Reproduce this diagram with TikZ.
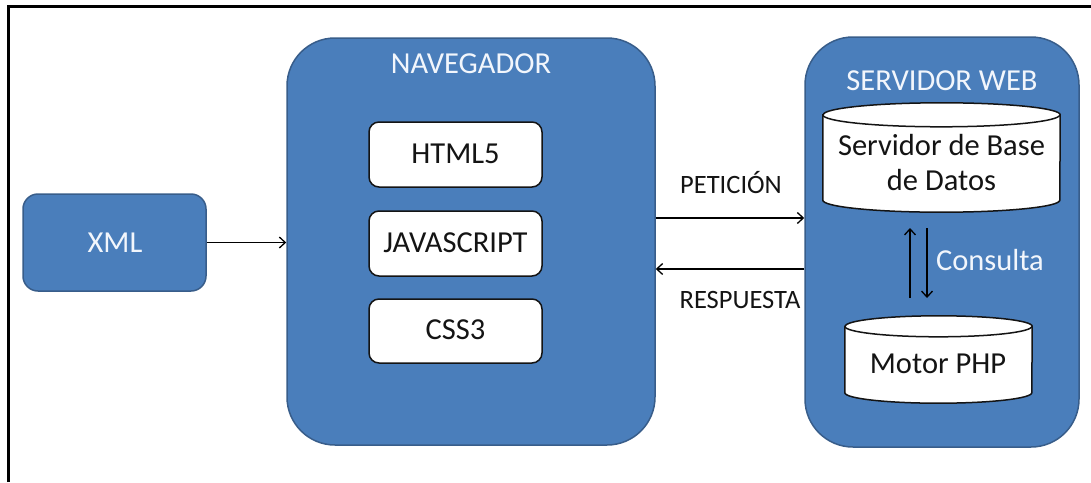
\documentclass[tikz,border=0pt]{standalone}
\usepackage{fontspec}
\setmainfont{Carlito}
\usetikzlibrary{arrows.meta}
\definecolor{boxblue}{RGB}{74,126,187}
\definecolor{boxedge}{RGB}{56,93,138}
\definecolor{wtxt}{RGB}{242,246,252}
\definecolor{dtxt}{RGB}{20,20,20}
\begin{document}
\begin{tikzpicture}[x=1pt,y=1pt,
  bluebox/.style={rectangle,draw=boxedge,fill=boxblue,line width=1.5pt,inner sep=0pt},
  whitebox/.style={rectangle,draw=dtxt,fill=white,line width=1.5pt,rounded corners=10pt,inner sep=0pt,minimum width=173pt,minimum height=65pt},
  wlabel/.style={anchor=base,text=wtxt,font=\fontsize{30.5}{36}\selectfont,inner sep=0pt},
  dlabel/.style={anchor=base,text=dtxt,font=\fontsize{30.5}{36}\selectfont,inner sep=0pt},
  alabel/.style={anchor=base,text=dtxt,font=\fontsize{26.5}{30}\selectfont,inner sep=0pt},
  conn/.style={line width=1.3pt,draw=black,-{Straight Barb[length=6pt,width=11pt,line width=1.3pt]}},
  cylbody/.style={fill=white,draw=dtxt,line width=1.5pt},
  frameline/.style={line width=3pt,draw=black}]
\useasboundingbox (0,0) rectangle (1091,-482);
% frame
\draw[frameline] (8.5,-482) -- (8.5,-6.5) -- (1091,-6.5);

% big boxes
\node[bluebox,rounded corners=15pt,minimum width=183pt,minimum height=97pt] (xml) at (114.5,-242.5) {};
\node[wlabel] (xmlt) at (115,-252) {XML};

\node[bluebox,rounded corners=48pt,minimum width=368pt,minimum height=407pt] (nav) at (471,-241.5) {};
\node[wlabel] (navt) at (471,-73) {NAVEGADOR};

\node[bluebox,rounded corners=48pt,minimum width=274pt,minimum height=410pt] (srv) at (942,-242) {};
\node[wlabel] (srvt) at (942,-90) {SERVIDOR WEB};

% inner white boxes
\node[whitebox] (html) at (455.5,-154.5) {};
\node[dlabel] at (455.5,-163) {HTML5};
\node[whitebox] (js) at (455.5,-243.5) {};
\node[dlabel] at (455.5,-252) {JAVASCRIPT};
\node[whitebox,minimum height=64pt] (css) at (455.5,-331) {};
\node[dlabel] at (455.5,-339) {CSS3};

% cylinders
\node[inner sep=0pt,minimum width=237pt,minimum height=85pt] (db) at (941.5,-157.5) {};
\draw[cylbody] (db.north west) -- (db.south west)
  arc[start angle=180,end angle=360,x radius=118.5pt,y radius=12pt]
  -- (db.north east)
  arc[start angle=0,end angle=180,x radius=118.5pt,y radius=12pt] -- cycle;
\draw[draw=dtxt,line width=1.5pt] (db.north west)
  arc[start angle=180,end angle=360,x radius=118.5pt,y radius=12pt];
\node[dlabel] at (941.5,-155) {Servidor de Base};
\node[dlabel] at (941.5,-190) {de Datos};

\node[inner sep=0pt,minimum width=187pt,minimum height=66pt] (php) at (938.5,-359.5) {};
\draw[cylbody] (php.north west) -- (php.south west)
  arc[start angle=180,end angle=360,x radius=93.5pt,y radius=10.5pt]
  -- (php.north east)
  arc[start angle=0,end angle=180,x radius=93.5pt,y radius=10.5pt] -- cycle;
\draw[draw=dtxt,line width=1.5pt] (php.north west)
  arc[start angle=180,end angle=360,x radius=93.5pt,y radius=10.5pt];
\node[dlabel] at (938,-373) {Motor PHP};

% connectors
\draw[conn] (xml.east) -- (xml.east -| nav.west);
\draw[conn] (nav.east |- 0,-218) -- (srv.west |- 0,-218);
\draw[conn] (srv.west |- 0,-269) -- (nav.east |- 0,-269);
\node[alabel] (pet) at (731,-193) {PETICIÓN};
\node[alabel] (resp) at (740,-308) {RESPUESTA};

\coordinate (upA) at (910,-298);
\coordinate (upB) at (910,-228);
\coordinate (dnA) at (927,-228);
\coordinate (dnB) at (927,-298);
\draw[conn] (upA) -- (upB);
\draw[conn] (dnA) -- (dnB);
\node[wlabel] (cons) at (990,-270) {Consulta};
\end{tikzpicture}
\end{document}
